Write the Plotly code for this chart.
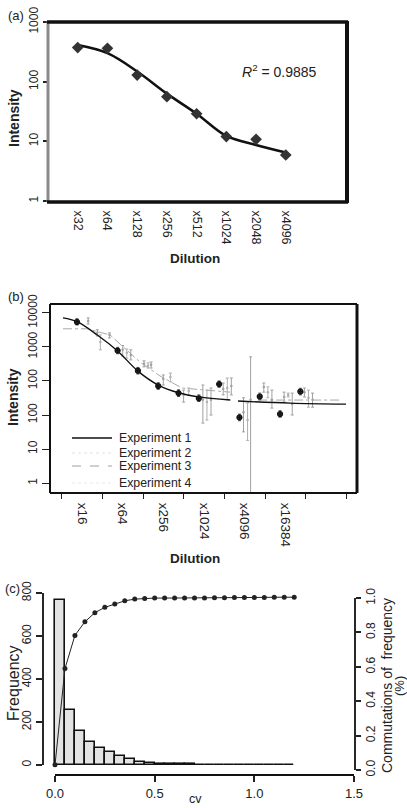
import plotly.graph_objects as go

W, H = 407, 808
def px(x): return x / W
def py(y): return 1 - y / H

FONT = "Liberation Sans, Arial, Helvetica, sans-serif"

# ---------------- Panel (a) data ----------------
a_dilutions = ["x32", "x64", "x128", "x256", "x512", "x1024", "x2048", "x4096"]
a_intensity = [372, 362, 129, 56, 29, 12, 10.8, 5.9]
a_fit_curve = [410, 300, 148, 63, 29, 12.3, 8.7, 6.5]
a_r2 = "0.9885"

# ---------------- Panel (b) data ----------------
b_tick_labels = ["x16", "x64", "x256", "x1024", "x4096", "x16384"]
b_tick_log2 = [4, 6, 8, 10, 12, 14]
b_minor_ticks = [3, 5, 7, 9, 11, 13, 15, 17]
b_ytick_vals = [1, 10, 100, 1000, 10000, 100000]
b_ytick_text = ["1", "10", "100", "100", "1000", "10000"]

exp1_log2 = [4, 6, 7, 8, 9, 10, 11, 12, 13, 14, 15]
exp1_int = [54000, 7800, 2000, 710, 440, 310, 810, 85, 350, 107, 490]
exp1_lo = [44000, 6300, 1600, 570, 350, 250, 650, 68, 280, 86, 390]
exp1_hi = [67000, 9700, 2500, 890, 550, 390, 1000, 106, 440, 134, 610]
exp1_fit_x = [3.31, 4, 5, 6, 7, 8, 9, 10, 11.55, None, 11.93, 14.5, 17.25]
exp1_fit_y = [71000, 55000, 22400, 7600, 1950, 760, 450, 340, 275, None, 257, 224, 209]

exp2_log2 = [4.55, 5.0, 6.25, 7.3, 8.25, 9.25, 10.2, 11.2, 12.2, 13.2, 14.2, 15.2]
exp2_int = [58000, 26000, 8200, 3200, 1150, 390, 280, 580, 120, 670, 340, 470]
exp2_lo = [47000, 21000, 5400, 2600, 760, 240, 58, 390, 32, 470, 240, 340]
exp2_hi = [71000, 32000, 11000, 3900, 1500, 540, 760, 870, 320, 870, 470, 620]

exp3_log2 = [5.15, 6.45, 7.5, 8.6, 9.5, 10.4, 11.4, 12.4, 13.4, 14.4, 15.4]
exp3_int = [14000, 6700, 2800, 1300, 510, 240, 620, 71, 470, 390, 320]
exp3_lo = [8200, 4700, 2400, 940, 390, 71, 280, 18, 320, 340, 170]
exp3_hi = [22500, 8700, 3400, 1700, 620, 540, 1220, 225, 670, 440, 540]
exp3_fit_x = [3.31, 4.49, 5.63, 7.1, 8.09, 9.17, 11.54, None, 12.92, 16.96]
exp3_fit_y = [34000, 34000, 22400, 3600, 1400, 620, 470, None, 275, 275]

exp4_log2 = [5.6, 6.65, 7.65, 10.6, 11.6, 12.55, 13.6, 14.6, 15.6]
exp4_int = [22500, 5800, 3000, 280, 710, 280, 280, 210, 280]
exp4_lo = [18400, 4150, 2400, 100, 390, 0.1, 160, 100, 170]
exp4_hi = [25800, 8200, 3600, 620, 1220, 5100, 540, 440, 440]

legend_names = ["Experiment 1", "Experiment 2", "Experiment 3", "Experiment 4"]

# ---------------- Panel (c) data ----------------
cv_bin_centers = [0.025, 0.075, 0.125, 0.175, 0.225, 0.275, 0.325, 0.375, 0.425, 0.475,
                  0.525, 0.575, 0.625, 0.675, 0.725, 0.775, 0.825, 0.875, 0.925, 0.975,
                  1.025, 1.075, 1.125, 1.175]
cv_counts = [768, 255, 160, 108, 80, 60, 40, 28, 16, 9,
             5, 4, 3, 3, 2, 2, 2, 1, 1, 1, 1, 1, 1, 1]
cum_x = [0.0, 0.05, 0.1, 0.15, 0.2, 0.25, 0.3, 0.35, 0.4, 0.45, 0.5, 0.55, 0.6,
         0.65, 0.7, 0.75, 0.8, 0.85, 0.9, 0.95, 1.0, 1.05, 1.1, 1.15, 1.2]
cum_y = [0.03, 0.59, 0.783, 0.862, 0.915, 0.946, 0.965, 0.984, 0.994, 0.998, 1.0, 1.0, 1.0,
         1.0, 1.0, 1.0, 1.002, 1.002, 1.003, 1.003, 1.004, 1.004, 1.005, 1.005, 1.005]

fig = go.Figure()

# ---- Panel a traces ----
fig.add_trace(go.Scatter(x=a_dilutions, y=a_fit_curve, mode="lines",
                         line=dict(color="#111", width=2.5, shape="spline"),
                         xaxis="x", yaxis="y", hoverinfo="skip"))
fig.add_trace(go.Scatter(x=a_dilutions, y=a_intensity, mode="markers",
                         marker=dict(symbol="diamond", size=9, color="#333"),
                         xaxis="x", yaxis="y"))

# ---- Panel b traces ----
def errs(v, lo, hi):
    return [h - x for x, h in zip(v, hi)], [x - l for x, l in zip(v, lo)]

fig.add_trace(go.Scatter(x=exp3_fit_x, y=exp3_fit_y, mode="lines",
                         line=dict(color="#a8a8a8", width=1, dash="dashdot"),
                         xaxis="x2", yaxis="y2", hoverinfo="skip"))
for xs, ys, lo, hi, col in [(exp2_log2, exp2_int, exp2_lo, exp2_hi, "#a0a0a0"),
                            (exp3_log2, exp3_int, exp3_lo, exp3_hi, "#b0b0b0"),
                            (exp4_log2, exp4_int, exp4_lo, exp4_hi, "#a0a0a0")]:
    up, dn = errs(ys, lo, hi)
    fig.add_trace(go.Scatter(x=xs, y=ys, mode="markers",
                             marker=dict(size=2.5, color=col),
                             error_y=dict(type="data", symmetric=False, array=up,
                                          arrayminus=dn, color=col, thickness=1, width=1.5),
                             xaxis="x2", yaxis="y2"))
fig.add_trace(go.Scatter(x=exp1_fit_x, y=exp1_fit_y, mode="lines",
                         line=dict(color="#111", width=1.4, shape="spline"),
                         connectgaps=False, xaxis="x2", yaxis="y2", hoverinfo="skip"))
up, dn = errs(exp1_int, exp1_lo, exp1_hi)
fig.add_trace(go.Scatter(x=exp1_log2, y=exp1_int, mode="markers",
                         marker=dict(symbol="circle-cross", size=5, color="#333",
                                     line=dict(width=1.2, color="#111")),
                         error_y=dict(type="data", symmetric=False, array=up, arrayminus=dn,
                                      color="#555", thickness=1, width=1.5),
                         xaxis="x2", yaxis="y2"))
# invisible trace to carry the minor tick overlay axis
fig.add_trace(go.Scatter(x=[b_minor_ticks[0]], y=[1], mode="markers",
                         marker=dict(opacity=0), xaxis="x4", yaxis="y2", hoverinfo="skip"))

# ---- Panel c traces ----
fig.add_trace(go.Bar(x=cv_bin_centers, y=cv_counts, width=0.05,
                     marker=dict(color="#e3e3e3", line=dict(color="#111", width=1.6)),
                     xaxis="x3", yaxis="y3"))
fig.add_trace(go.Scatter(x=cum_x, y=cum_y, mode="lines+markers",
                         line=dict(color="#222", width=1),
                         marker=dict(size=5, color="#222"),
                         xaxis="x3", yaxis="y4"))

tf = dict(family=FONT, size=12, color="#222")
common = dict(showgrid=False, zeroline=False, showline=False, automargin=False,
              tickcolor="#222", tickfont=tf)

fig.update_layout(
    width=W, height=H, margin=dict(l=0, r=0, t=0, b=0),
    template="none", paper_bgcolor="white", plot_bgcolor="rgba(0,0,0,0)",
    showlegend=False, font=dict(family=FONT, color="#222"), bargap=0,
    xaxis=dict(domain=[px(48), px(347)], anchor="y", type="category",
               categoryorder="array", categoryarray=a_dilutions, range=[-1.0, 9.06],
               tickangle=90, ticks="outside", ticklen=6, tickcolor="rgba(0,0,0,0)",
               **{k: v for k, v in common.items() if k not in ("tickcolor", "tickfont")},
               tickfont=dict(family=FONT, size=12.5, color="#222")),
    yaxis=dict(domain=[py(201), py(22)], anchor="x", type="log", range=[0, 3],
               tickvals=[1, 10, 100, 1000], ticktext=["1", "10", "100", "1000"],
               tickangle=-90, ticks="outside", ticklen=4, tickwidth=1.5, **common),
    xaxis2=dict(domain=[px(50), px(357)], anchor="y2", range=[2.67, 17.79],
                tickvals=[v + 0.25 for v in b_tick_log2], ticktext=b_tick_labels,
                tickangle=90, ticks="outside", ticklen=6, tickcolor="rgba(0,0,0,0)",
                **{k: v for k, v in common.items() if k not in ("tickcolor", "tickfont")},
                tickfont=dict(family=FONT, size=13.5, color="#222")),
    xaxis4=dict(overlaying="x2", anchor="y2", range=[2.67, 17.79],
                tickvals=[v + 0.26 for v in b_minor_ticks], ticks="outside", ticklen=5,
                tickwidth=1.3, showticklabels=False, **common),
    yaxis2=dict(domain=[py(493), py(304)], anchor="x2", type="log", range=[-0.29, 5.26],
                tickvals=b_ytick_vals, ticktext=b_ytick_text, tickangle=-90,
                ticks="outside", ticklen=7, tickwidth=1.3, **common),
    xaxis3=dict(domain=[px(43), px(355)], anchor="y3", range=[-0.0602, 1.505],
                tickvals=[0, 0.5, 1.0, 1.5], ticktext=["0.0", "0.5", "1.0", "1.5"],
                ticks="outside", ticklen=6, tickwidth=1.5,
                **{k: v for k, v in common.items() if k != "tickfont"},
                tickfont=dict(family=FONT, size=13, color="#222")),
    yaxis3=dict(domain=[py(775), py(590)], anchor="x3", range=[-46.5, 814],
                tickvals=[0, 200, 400, 600, 800], tickangle=-90, ticks="outside",
                ticklen=6, tickwidth=1.5, **common),
    yaxis4=dict(overlaying="y3", anchor="x3", side="right", range=[-0.029, 1.047],
                tickvals=[0, 0.2, 0.4, 0.6, 0.8, 1.0],
                ticktext=["0.0", "0.2", "0.4", "0.6", "0.8", "1.0"], tickangle=-90,
                ticks="outside", ticklen=5, tickwidth=1.5, **common),
)

shapes = []
# Panel a frame
shapes.append(dict(type="line", xref="paper", yref="paper", x0=px(48), x1=px(48),
                   y0=py(202), y1=py(21), line=dict(color="#8a8a8a", width=3)))
for (x0, y0, x1, y1, w) in [(47, 22, 348, 22, 3.5), (347, 21, 347, 203, 4), (47, 202, 348, 202, 3.5)]:
    shapes.append(dict(type="line", xref="paper", yref="paper", x0=px(x0), x1=px(x1),
                       y0=py(y0), y1=py(y1), line=dict(color="#111", width=w)))
# Panel b frame
for (x0, y0, x1, y1, w) in [(50, 304, 357, 304, 2), (50, 304, 50, 493, 2),
                            (50, 493, 357, 493, 2), (357, 304, 357, 493, 3)]:
    shapes.append(dict(type="line", xref="paper", yref="paper", x0=px(x0), x1=px(x1),
                       y0=py(y0), y1=py(y1), line=dict(color="#111", width=w)))
# Panel b legend samples
leg_y = [438, 453, 466, 483]
leg_styles = [dict(color="#111", width=1.4), dict(color="#e2e2e2", width=1, dash="dot"),
              dict(color="#a0a0a0", width=1, dash="dash"), dict(color="#e8e8e8", width=1, dash="dot")]
for yy, st in zip(leg_y, leg_styles):
    shapes.append(dict(type="line", xref="paper", yref="paper", x0=px(72), x1=px(112),
                       y0=py(yy), y1=py(yy), line=st))
# Panel c axis lines (R style)
shapes.append(dict(type="line", xref="x3 domain", yref="y3", x0=0, x1=0, y0=0, y1=800,
                   line=dict(color="#111", width=1.8)))
shapes.append(dict(type="line", xref="x3 domain", yref="y4", x0=1, x1=1, y0=0, y1=1,
                   line=dict(color="#111", width=1.8)))
shapes.append(dict(type="line", xref="x3", yref="y3 domain", x0=0, x1=1.5, y0=0, y1=0,
                   line=dict(color="#111", width=1.8)))
fig.update_layout(shapes=shapes)

ann = []
def A(text, x, y, size=12, angle=0, bold=False, xanchor="center"):
    t = f"<b>{text}</b>" if bold else text
    ann.append(dict(text=t, x=px(x), y=py(y), xref="paper", yref="paper", showarrow=False,
                    xanchor=xanchor, yanchor="middle", textangle=angle,
                    font=dict(family=FONT, size=size, color="#222")))

A("(a)", 16, 15, 13)
A("(b)", 16, 296, 13)
A("(c)", 12, 588, 13)
A("Intensity", 14, 118, 14, angle=-90, bold=True)
A("Dilution", 195, 258, 13.5, bold=True)
A("Intensity", 13, 397, 14, angle=-90, bold=True)
A("Dilution", 195, 558, 13.5, bold=True)
A("Frequency", 13, 683, 16, angle=-90)
A("cv", 195, 799, 12.5)
A("Commutations of\u00a0 frequency", 387, 686, 14, angle=-90)
A("(%)", 399, 686, 13, angle=-90)
A(f"<i>R</i><sup>2</sup> = {a_r2}", 240, 71, 14, xanchor="left")
for yy, name in zip(leg_y, legend_names):
    A(name, 117, yy, 12.3, xanchor="left")
fig.update_layout(annotations=ann)

fig.write_html("out.html")
